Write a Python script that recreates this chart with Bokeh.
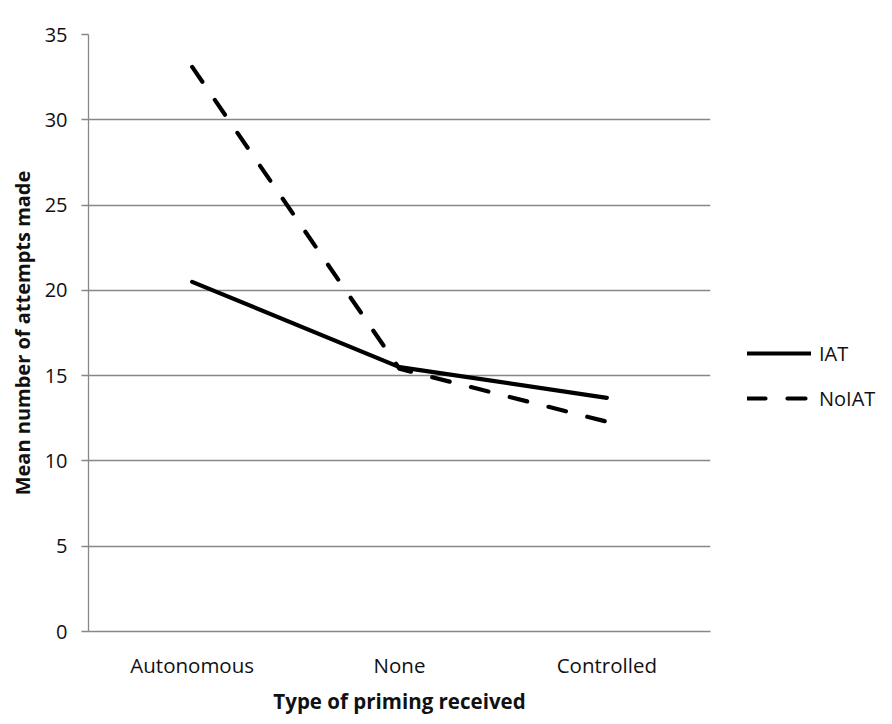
from bokeh.plotting import figure
from bokeh.models import Legend, LegendItem, FixedTicker, ColumnDataSource
from bokeh.embed import file_html
from bokeh.resources import INLINE

categories = ["Autonomous", "None", "Controlled"]
iat = [20.5, 15.5, 13.7]
noiat = [33.1, 15.4, 12.3]
y_ticks = [0, 5, 10, 15, 20, 25, 30, 35]

FONT = "Open Sans"
GRID = "#878787"
TEXT = "#111111"

p = figure(x_range=categories, y_range=(0, 35), frame_width=622, frame_height=597,
           output_backend="svg", toolbar_location=None,
           min_border_left=88, min_border_right=174, min_border_top=34, min_border_bottom=80)
p.outline_line_color = None
p.xgrid.grid_line_color = None
p.ygrid.grid_line_color = GRID
p.ygrid.grid_line_width = 1.3

p.yaxis.ticker = FixedTicker(ticks=y_ticks)
p.yaxis.axis_line_color = GRID
p.yaxis.axis_line_width = 1.3
p.yaxis.major_tick_line_color = GRID
p.yaxis.major_tick_line_width = 1.3
p.yaxis.major_tick_out = 7
p.yaxis.major_tick_in = 0
p.yaxis.minor_tick_line_color = None
p.yaxis.major_label_text_font = FONT
p.yaxis.major_label_text_font_size = "20px"
p.yaxis.major_label_text_color = TEXT
p.yaxis.major_label_standoff = 14
p.yaxis.axis_label = "Mean number of attempts made"
p.yaxis.axis_label_text_font = FONT
p.yaxis.axis_label_text_font_style = "bold"
p.yaxis.axis_label_text_font_size = "20px"
p.yaxis.axis_label_text_color = TEXT
p.yaxis.axis_label_standoff = 6

p.xaxis.axis_line_color = GRID
p.xaxis.axis_line_width = 1.3
p.xaxis.major_tick_line_color = None
p.xaxis.minor_tick_line_color = None
p.xaxis.major_label_text_font = FONT
p.xaxis.major_label_text_font_size = "20.5px"
p.xaxis.major_label_text_color = TEXT
p.xaxis.major_label_standoff = 13
p.xaxis.axis_label = "Type of priming received"
p.xaxis.axis_label_text_font = FONT
p.xaxis.axis_label_text_font_style = "bold"
p.xaxis.axis_label_text_font_size = "20.5px"
p.xaxis.axis_label_text_color = TEXT
p.xaxis.axis_label_standoff = 5

src = ColumnDataSource(dict(x=categories, iat=iat, noiat=noiat))
r1 = p.line("x", "iat", source=src, line_color="black", line_width=4.2,
            line_cap="round", line_join="round")
r2 = p.line("x", "noiat", source=src, line_color="black", line_width=4.2,
            line_dash="18 22", line_cap="round", line_join="round")

legend = Legend(items=[LegendItem(label="IAT", renderers=[r1]),
                       LegendItem(label="NoIAT", renderers=[r2])],
                location=(37, 219), orientation="vertical",
                glyph_width=64, glyph_height=28, label_height=28, spacing=17,
                label_standoff=8, padding=0, margin=0,
                border_line_color=None, background_fill_alpha=0,
                label_text_font=FONT, label_text_font_size="20px", label_text_color=TEXT)
p.add_layout(legend, "right")

open("out.html", "w").write(file_html(p, INLINE))
